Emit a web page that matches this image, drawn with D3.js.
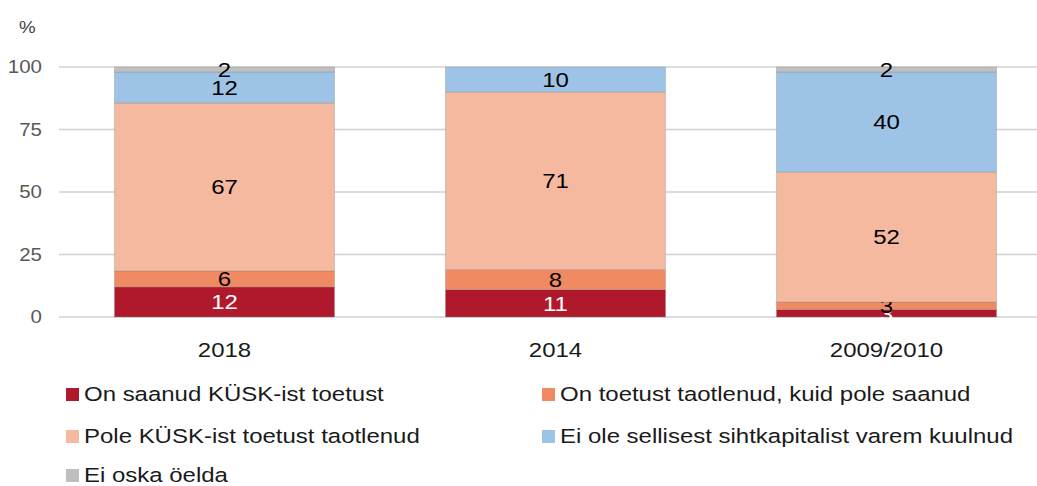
<!DOCTYPE html>
<html>
<head>
<meta charset="utf-8">
<script src="https://cdn.jsdelivr.net/npm/d3@7"></script>
<style>
  body { margin: 0; background: #fff; }
  text { font-family: "Liberation Sans", Arial, sans-serif; }
</style>
</head>
<body>
<svg id="chart" width="1037" height="486"></svg>
<script>
'use strict';

var categories = ['2018', '2014', '2009/2010'];
var seriesNames = [
  'On saanud KÜSK-ist toetust',
  'On toetust taotlenud, kuid pole saanud',
  'Pole KÜSK-ist toetust taotlenud',
  'Ei ole sellisest sihtkapitalist varem kuulnud',
  'Ei oska öelda'
];
// segment heights, labels are the rounded values
var received = [12, 11, 3];
var appliedNotReceived = [6.4, 8, 3];
var notApplied = [67.2, 71, 52];
var notHeard = [12.4, 10, 40];
var dontKnow = [2, 0, 2];
var yTicks = [0, 25, 50, 75, 100];

var colors = ['#b0182c', '#f08a62', '#f5b9a0', '#9dc3e6', '#bfbfbf'];
var labelColors = ['#fff', '#000', '#000', '#000', '#000'];

var seriesValues = [received, appliedNotReceived, notApplied, notHeard, dontKnow];

// the source picture is a bit wider than tall, stretch text to match
var SX = 1.17;
function place(sel, xFn, yFn) {
  sel.attr('transform', function(d, i) {
    var x = typeof xFn === 'function' ? xFn(d, i) : xFn;
    var y = typeof yFn === 'function' ? yFn(d, i) : yFn;
    return 'translate(' + x + ',' + y + ') scale(' + SX + ',1)';
  });
}

// one row per category for d3.stack
var rows = categories.map(function(c, i) {
  var row = { category: c };
  seriesNames.forEach(function(s, k) { row[s] = seriesValues[k][i]; });
  return row;
});

var svg = d3.select('#chart');
var margin = { left: 59, top: 67, bottom: 317 };

var xScale = d3.scaleBand()
  .domain(categories)
  .range([59, 1052])
  .paddingInner(0.335)
  .paddingOuter(0.1675);

var yScale = d3.scaleLinear()
  .domain([0, 100])
  .range([margin.bottom, margin.top]);

// GRID
svg.append('g').selectAll('line')
  .data(yTicks)
  .enter().append('line')
  .attr('x1', 59)
  .attr('x2', 1037)
  .attr('y1', function(d) { return yScale(d); })
  .attr('y2', function(d) { return yScale(d); })
  .attr('stroke', '#d0d0d0')
  .attr('stroke-width', 1.5);

// Y AXIS labels
svg.append('g').selectAll('text')
  .data(yTicks)
  .enter().append('text')
  .call(place, 42, function(d) { return yScale(d); })
  .attr('dy', '0.36em')
  .attr('text-anchor', 'end')
  .attr('fill', '#595959')
  .style('font-size', '17.5px')
  .text(function(d) { return d; });

svg.append('text')
  .call(place, 19, 33)
  .attr('fill', '#404040')
  .style('font-size', '16px')
  .text('%');

// BARS
var stacked = d3.stack().keys(seriesNames)(rows);

var groups = svg.append('g').selectAll('g.series')
  .data(stacked)
  .enter().append('g')
  .attr('class', 'series')
  .attr('fill', function(d, i) { return colors[i]; });

groups.selectAll('rect')
  .data(function(d) { return d; })
  .enter().append('rect')
  .attr('x', function(d) { return xScale(d.data.category); })
  .attr('y', function(d) { return yScale(d[1]); })
  .attr('width', xScale.bandwidth())
  .attr('height', function(d) { return yScale(d[0]) - yScale(d[1]); })
  .attr('stroke', 'rgba(140,140,140,0.45)')
  .attr('stroke-width', 0.75);

// segment labels
groups.each(function(s, i) {
  d3.select(this).selectAll('text')
    .data(s.filter(function(d) { return d[1] - d[0] > 0; }))
    .enter().append('text')
    .call(place,
      function(d) { return xScale(d.data.category) + xScale.bandwidth() / 2; },
      function(d) { return yScale((d[0] + d[1]) / 2); })
    .attr('dy', '0.36em')
    .attr('text-anchor', 'middle')
    .attr('fill', labelColors[i])
    .style('font-size', '20.5px')
    .text(function(d) { return Math.round(d[1] - d[0]); });
});

// X AXIS labels
svg.append('g').selectAll('text')
  .data(categories)
  .enter().append('text')
  .call(place, function(d) { return xScale(d) + xScale.bandwidth() / 2; }, 357)
  .attr('text-anchor', 'middle')
  .attr('fill', '#1a1a1a')
  .style('font-size', '20.5px')
  .text(function(d) { return d; });

// LEGEND
var legendPos = [
  [66, 394], [542, 394],
  [66, 436], [542, 436],
  [66, 475]
];

var legend = svg.append('g').selectAll('g')
  .data(seriesNames)
  .enter().append('g')
  .attr('transform', function(d, i) {
    return 'translate(' + legendPos[i][0] + ',' + legendPos[i][1] + ')';
  });

legend.append('rect')
  .attr('x', 0)
  .attr('y', -6)
  .attr('width', 13)
  .attr('height', 13)
  .attr('fill', function(d, i) { return colors[i]; });

legend.append('text')
  .call(place, 18, 0)
  .attr('dy', '0.36em')
  .attr('fill', '#1a1a1a')
  .style('font-size', '20.5px')
  .text(function(d) { return d; });
</script>
</body>
</html>
